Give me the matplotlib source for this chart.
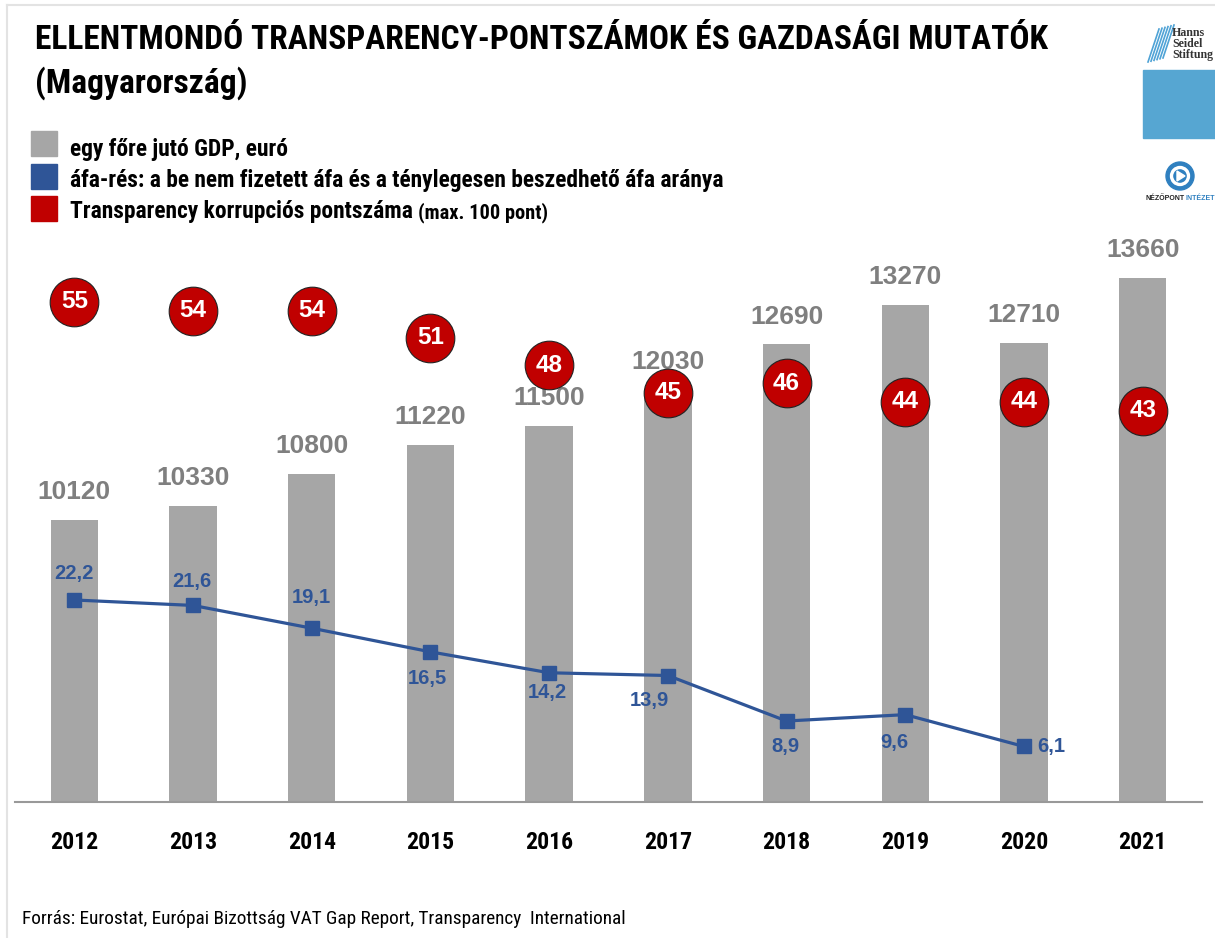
#!/usr/bin/env python3
import numpy as np
import matplotlib
matplotlib.use('Agg')
import matplotlib.pyplot as plt
import matplotlib.font_manager as fm
from matplotlib.patches import Rectangle, Circle, Polygon
from matplotlib.lines import Line2D

# data
years = ['2012', '2013', '2014', '2015', '2016', '2017', '2018', '2019', '2020', '2021']
gdp = [10120, 10330, 10800, 11220, 11500, 12030, 12690, 13270, 12710, 13660]
vat_gap = [22.2, 21.6, 19.1, 16.5, 14.2, 13.9, 8.9, 9.6, 6.1]
cpi = [55, 54, 54, 51, 48, 45, 46, 44, 44, 43]

# label offsets for the vat gap line (points)
vat_offsets = [(0, 19), (-1, 17), (0, 22), (-2, -19), (-1, -14), (-13, -18), (-1, -18), (-8, -20), (20, 0)]

# pick a narrow family if one is installed
names = {f.name for f in fm.fontManager.ttflist}
narrow_name = next((n for n in ['Liberation Sans Narrow', 'Arial Narrow', 'Roboto Condensed',
                                'Open Sans Condensed', 'DejaVu Sans Condensed'] if n in names), None)
NARROW = ([narrow_name] if narrow_name else []) + ['Liberation Sans', 'DejaVu Sans']
SANS = ['Liberation Sans', 'DejaVu Sans']

GRAY = '#A6A6A6'
GRAY_TXT = '#7F7F7F'
BLUE = '#2F5597'
RED = '#C00000'

W, H = 1215, 938


def fx(px):
    return px / W


def fy(py):
    return 1 - py / H


def fit_width(txt, target_px):
    # scale font so the text spans about the same width as in the reference
    fig.canvas.draw()
    w = txt.get_window_extent().width
    txt.set_fontsize(txt.get_fontsize() * target_px / w)
    return txt.get_fontsize()


fig = plt.figure(figsize=(W / 100, H / 100), dpi=100)

# light frame (top and left visible)
fig.add_artist(Line2D([fx(7), fx(7)], [fy(5), fy(938)], color='#E3E3E3', lw=1.5))
fig.add_artist(Line2D([fx(7), fx(1215)], [fy(5), fy(5)], color='#E3E3E3', lw=1.5))

# title
t1 = fig.text(fx(35), fy(49), 'ELLENTMONDÓ TRANSPARENCY-PONTSZÁMOK ÉS GAZDASÁGI MUTATÓK',
              family=NARROW, fontweight='bold', fontsize=23, va='baseline', ha='left')
tsize = fit_width(t1, 1017)
fig.text(fx(35), fy(93), '(Magyarország)',
         family=NARROW, fontweight='bold', fontsize=tsize, va='baseline', ha='left')

# legend
leg = [(GRAY, 131, 'egy főre jutó GDP, euró', 156),
       (BLUE, 164, 'áfa-rés: a be nem fizetett áfa és a ténylegesen beszedhető áfa aránya', 187),
       (RED, 196, 'Transparency korrupciós pontszáma', 218)]
leg_txt = []
for col, top, txt, base in leg:
    fig.add_artist(Rectangle((fx(31), fy(top + 25)), 26 / W, 25 / H, color=col))
    leg_txt.append(fig.text(fx(70), fy(base), txt, family=NARROW, fontweight='bold', fontsize=16,
                            va='baseline', ha='left'))
lsize = fit_width(leg_txt[1], 654)
for t in leg_txt:
    t.set_fontsize(lsize)
fig.canvas.draw()
bb = leg_txt[2].get_window_extent()
fig.text(bb.x1 / W + 5 / W, fy(218), '(max. 100 pont)', family=NARROW, fontweight='bold',
         fontsize=lsize * 0.87, va='baseline', ha='left')

# source
src = fig.text(fx(22), fy(924), 'Forrás: Eurostat, Európai Bizottság VAT Gap Report, Transparency  International',
               family=NARROW, fontsize=13.5, va='baseline', ha='left')
fit_width(src, 603)

# logos (top right)
for i in range(6):
    x0 = 1148 + i * 3
    fig.add_artist(Line2D([fx(x0), fx(x0 + 11)], [fy(62 - i * 0.8), fy(29 - i * 0.8)],
                          color='#4FA3D6', lw=1.2))
fig.text(fx(1172), fy(27), 'Hanns\nSeidel\nStiftung', family=['Liberation Serif', 'DejaVu Serif'],
         fontweight='bold', fontsize=8.6, va='top', ha='left', color='#333333', linespacing=0.88)
fig.add_artist(Rectangle((fx(1143), fy(138)), 72 / W, 68 / H, color='#56A6D2'))
fig.add_artist(Circle((1180, H - 176), 14, transform=None, color='#2F80C0'))
fig.add_artist(Circle((1180, H - 176), 8.5, transform=None, fc='none', ec='white', lw=2.4))
fig.add_artist(Polygon([(1177, H - 171), (1177, H - 181), (1185, H - 176)],
                       closed=True, transform=None, color='white'))
fig.text(fx(1146), fy(200), 'NÉZŐPONT', family=SANS, fontweight='bold', fontsize=5,
         color='#222222', va='baseline', ha='left')
fig.text(fx(1186), fy(200), 'INTÉZET', family=SANS, fontweight='bold', fontsize=5,
         color='#2F80C0', va='baseline', ha='left')

# main axes
ax = fig.add_axes([fx(15), 1 - 802 / H, (1202 - 15) / W, (802 - 230) / H])
x = np.arange(len(years))
ax.bar(x, gdp, width=0.4, color=GRAY, zorder=1)
ax.set_ylim(6000, 6000 + 572 / 0.0684)
ax.set_xlim(-0.5, len(years) - 0.5)
for xi, v in zip(x, gdp):
    ax.annotate(f'{v}', (xi, v), xytext=(0, 20), textcoords='offset points',
                ha='center', va='center', family=SANS, fontweight='bold',
                fontsize=19, color=GRAY_TXT)
for s in ['top', 'right', 'left']:
    ax.spines[s].set_visible(False)
ax.spines['bottom'].set_color('#999999')
ax.spines['bottom'].set_linewidth(1.5)
ax.set_yticks([])
ax.set_xticks(x)
ax.set_xticklabels(years, family=NARROW, fontweight='bold', fontsize=19)
ax.tick_params(axis='x', length=0, pad=21)
ax.patch.set_alpha(0)
fig.canvas.draw()
yw = ax.get_xticklabels()[0].get_window_extent().width
for lab in ax.get_xticklabels():
    lab.set_fontsize(19 * 48 / yw)

ax2 = ax.twinx()
ax2.set_ylim(0, 572 / 9.1)
ax2.set_yticks([])
for s in ['top', 'right', 'left', 'bottom']:
    ax2.spines[s].set_visible(False)
xv = x[:len(vat_gap)]
ax2.plot(xv, vat_gap, color=BLUE, lw=2.3, marker='s', markersize=10, zorder=3)
for xi, v, off in zip(xv, vat_gap, vat_offsets):
    ax2.annotate(f'{v:.1f}'.replace('.', ','), (xi, v), xytext=off, textcoords='offset points',
                 ha='center', va='center', family=SANS, fontweight='bold',
                 fontsize=14.5, color=BLUE)

ax2.scatter(x, cpi, s=35 ** 2, color=RED, edgecolor='#222222', linewidth=0.8, zorder=4)
for xi, v in zip(x, cpi):
    ax2.text(xi, v, f'{v}', ha='center', va='center', family=SANS, fontweight='bold',
             fontsize=17.5, color='white', zorder=5)

fig.savefig('out.png', dpi=100)
